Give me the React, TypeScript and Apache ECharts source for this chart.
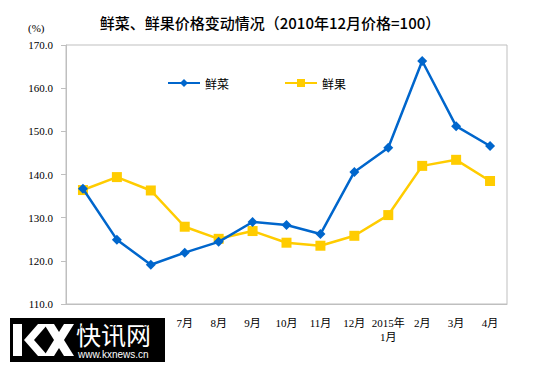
import React, { useEffect, useRef } from "react";
import * as echarts from "echarts";

const categories = ["4月", "5月", "6月", "7月", "8月", "9月", "10月", "11月", "12月", "2015年\n1月", "2月", "3月", "4月"];
const vegValues = [136.7, 124.9, 119.1, 121.9, 124.4, 129.0, 128.3, 126.2, 140.6, 146.2, 166.3, 151.2, 146.6];
const fruitValues = [136.4, 139.4, 136.3, 127.9, 125.1, 126.9, 124.2, 123.5, 125.8, 130.6, 142.0, 143.4, 138.5];
const seriesNames = ["鲜菜", "鲜果"];
const yMin = 110;
const yMax = 170;
const yInterval = 10;

const serif = "'Liberation Serif', 'Noto Sans CJK SC', serif";
const cjk = "'Noto Sans CJK SC', sans-serif";

export default function App() {
  const ref = useRef<HTMLDivElement>(null);
  useEffect(() => {
    if (!ref.current) return;
    const chart = echarts.init(ref.current, undefined, { renderer: "svg" });
    chart.setOption({
      animation: false,
      backgroundColor: "#ffffff",
      title: {
        text: "鲜菜、鲜果价格变动情况（2010年12月价格=100）",
        left: "center",
        top: 10,
        textStyle: { fontFamily: cjk, fontSize: 15, fontWeight: 500, color: "#000" },
      },
      legend: {
        left: 162,
        top: 72,
        itemWidth: 32,
        itemHeight: 10,
        itemGap: 55,
        textStyle: { fontFamily: cjk, fontSize: 12, color: "#000" },
        data: seriesNames,
      },
      grid: { left: 66, right: 33, top: 45, bottom: 64, show: true, borderColor: "#bfbfbf", borderWidth: 1 },
      xAxis: {
        type: "category",
        data: categories,
        boundaryGap: true,
        axisLine: { lineStyle: { color: "#bfbfbf" } },
        axisTick: { show: false },
        axisLabel: { fontFamily: serif, fontSize: 11, color: "#000", margin: 12, interval: 0, lineHeight: 14 },
      },
      yAxis: {
        type: "value",
        min: yMin,
        max: yMax,
        interval: yInterval,
        axisLine: { show: true, lineStyle: { color: "#bfbfbf" } },
        axisTick: { show: true, length: 5, lineStyle: { color: "#bfbfbf" } },
        splitLine: { show: false },
        axisLabel: { fontFamily: serif, fontSize: 11, color: "#000", margin: 13, formatter: (v: number) => v.toFixed(1) },
      },
      series: [
        {
          name: seriesNames[0],
          type: "line",
          data: vegValues,
          symbol: "diamond",
          symbolSize: 10,
          color: "#0066cc",
          lineStyle: { width: 2.5, color: "#0066cc" },
          itemStyle: { color: "#0066cc" },
          z: 3,
        },
        {
          name: seriesNames[1],
          type: "line",
          data: fruitValues,
          symbol: "rect",
          symbolSize: 10,
          color: "#ffcc00",
          lineStyle: { width: 2.5, color: "#ffcc00" },
          itemStyle: { color: "#ffcc00" },
          z: 2,
        },
      ],
      graphic: [
        {
          type: "text",
          left: 28,
          top: 22,
          style: { text: "(%)", font: `11px ${serif}`, fill: "#000" },
        },
        {
          type: "group",
          left: 10,
          top: 318,
          z: 100,
          children: [
            { type: "rect", shape: { x: 0, y: 0, width: 155, height: 44 }, style: { fill: "#000" } },
            { type: "polygon", shape: { points: [[3, 6], [12, 6], [12, 38], [3, 38]] }, style: { fill: "#fff" } },
            { type: "polygon", shape: { points: [[14, 22], [28, 6], [38, 6], [24, 22], [38, 38], [28, 38]] }, style: { fill: "#fff" } },
            { type: "polygon", shape: { points: [[34, 6], [44, 6], [64, 38], [54, 38]] }, style: { fill: "#fff" } },
            { type: "polygon", shape: { points: [[54, 6], [64, 6], [44, 38], [34, 38]] }, style: { fill: "#fff" } },
            {
              type: "text",
              x: 66,
              y: 3,
              style: { text: "快讯网", font: `25px ${cjk}`, fill: "#fff" },
            },
            {
              type: "text",
              x: 68,
              y: 31,
              style: { text: "www.kxnews.cn", font: `10px 'Liberation Sans', sans-serif`, fill: "#fff" },
            },
          ],
        },
      ],
    });
    return () => chart.dispose();
  }, []);
  return <div ref={ref} style={{ width: 540, height: 368, position: "absolute", left: 0, top: 0 }} />;
}
